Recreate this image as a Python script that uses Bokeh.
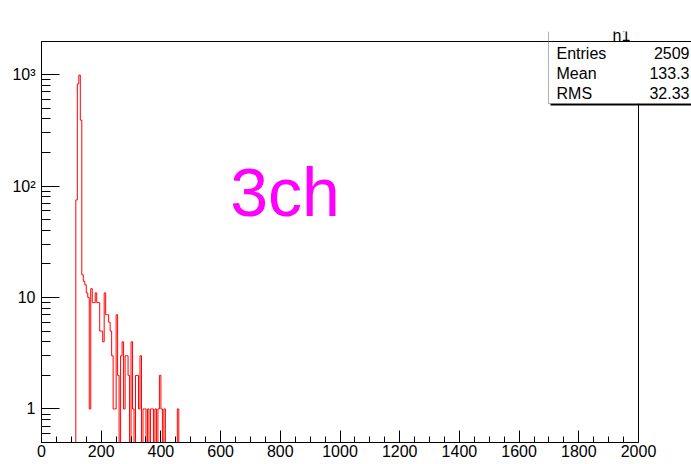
import math
import numpy as np
from bokeh.plotting import figure
from bokeh.models import (Label, BoxAnnotation, FixedTicker, Range1d, Span,
                          CustomJSTickFormatter)
from bokeh.embed import file_html
from bokeh.resources import INLINE

# ---------------- data ----------------
hist_name = "h1"
x_min, x_max = 0, 2000
bin_width = 5
# lower edges of the non-empty region and their counts
bin_lo = [115, 120, 125, 130, 135, 140, 145, 150, 155, 160, 165, 170, 175, 180, 185,
          190, 195, 200, 205, 210, 215, 220, 225, 230, 235, 240, 245, 250, 255, 260,
          265, 270, 275, 280, 285, 290, 295, 300, 305, 310, 315, 320, 325, 330, 335,
          340, 345, 350, 355, 360, 365, 370, 375, 380, 385, 390, 395, 400, 405, 410,
          415, 420, 425, 430, 435, 440, 445, 450, 455]
counts = [75, 825, 990, 390, 16, 14, 13, 11, 10, 1, 12, 9, 9, 11, 9,
          9, 5, 5, 4, 11, 7, 7, 6, 5, 3, 1, 1, 7, 2, 0,
          3, 4, 1, 3, 3, 2, 0, 4, 1, 0, 2, 2, 1, 3, 0,
          1, 1, 0, 1, 0, 1, 1, 0, 1, 0, 1, 2, 1, 0, 1,
          0, 0, 0, 0, 0, 0, 0, 0, 1]
x_ticks = [0, 200, 400, 600, 800, 1000, 1200, 1400, 1600, 1800, 2000]
y_ticks = [1, 10, 100, 1000]
y_tick_labels = ["1", "10", "10\u00b2", "10\u00b3"]
stats_names = ["Entries", "Mean", "RMS"]
stats_values = ["2509", "133.3", "32.33"]
annotation_text = "3ch"

# ---------------- histogram path ----------------
nbins = (x_max - x_min) // bin_width
full = np.zeros(nbins)
for lo, c in zip(bin_lo, counts):
    full[(lo - x_min) // bin_width] = c
edges = np.arange(x_min, x_max + bin_width, bin_width, dtype=float)
y_lo = 0.5
y_hi = 2 * max(counts)
floor_val = y_lo * 0.1
vals = np.where(full > 0, full, floor_val)
step_x = edges
step_y = np.append(vals, vals[-1])

# ---------------- layout (pixels) ----------------
W, H = 691, 464
FL, FR, FT, FB = 41, 638, 41, 442     # the histogram frame
CT = 31                                # drawing area top (stats box top)
ly0, ly1 = math.log10(y_lo), math.log10(y_hi)
def dx(px):
    return x_min + (px - FL) / (FR - FL) * (x_max - x_min)
def dy(py):
    return 10 ** (ly0 + (FB - py) / (FB - FT) * (ly1 - ly0))

p = figure(width=W, height=H, x_range=Range1d(x_min, dx(W)), y_range=Range1d(y_lo, dy(CT)),
           y_axis_type="log", output_backend="svg", toolbar_location=None,
           min_border_left=FL, min_border_right=0, min_border_top=CT,
           min_border_bottom=H - FB)
p.outline_line_color = None
p.xgrid.visible = False
p.ygrid.visible = False
p.background_fill_color = "white"
p.border_fill_color = "white"

p.step(x=step_x, y=step_y, mode="after", line_color="#ff0000", line_width=1)

font = "Liberation Sans"
xa = p.xaxis[0]
xa.bounds = (x_min, x_max)
xa.ticker = FixedTicker(ticks=x_ticks, minor_ticks=list(range(x_min, x_max + 1, 50)))
xa.major_tick_in = 12
xa.major_tick_out = 0
xa.minor_tick_in = 6
xa.minor_tick_out = 0
xa.major_label_standoff = 2
xa.major_label_text_font = font
xa.major_label_text_font_size = "16px"
xa.major_label_text_color = "black"
xa.axis_line_color = "black"

ya = p.yaxis[0]
ya.bounds = (y_lo, y_hi)
minor = [m * 10.0 ** d for d in range(-1, 4) for m in range(2, 10)]
ya.ticker = FixedTicker(ticks=y_ticks, minor_ticks=minor)
lab_map = {str(t): s for t, s in zip(y_ticks, y_tick_labels)}
ya.formatter = CustomJSTickFormatter(args=dict(m=lab_map),
                                     code="const k = String(Math.round(tick)); return (k in m) ? m[k] : '';")
ya.major_tick_in = 18
ya.major_tick_out = 0
ya.minor_tick_in = 9
ya.minor_tick_out = 0
ya.major_label_standoff = 6
ya.major_label_text_font = font
ya.major_label_text_font_size = "16px"
ya.major_label_text_color = "black"
ya.axis_line_color = "black"

# frame lines: top and right
p.add_layout(Span(location=y_hi, dimension="width", line_color="black", line_width=1))
p.segment(x0=[x_max], y0=[y_lo], x1=[x_max], y1=[y_hi], line_color="black", line_width=1)

# "3ch"
p.add_layout(Label(x=dx(284.5), y=dy(191), text=annotation_text, text_align="center",
                   text_baseline="alphabetic", text_font=font, text_font_size="68px",
                   text_color="#ff00ff"))

# stats box
BL, BR, BB = 548, W + 5, 103
p.add_layout(BoxAnnotation(left=dx(BL + 2), right=dx(BR), top=dy(BB), bottom=dy(BB + 2),
                           fill_color="black", fill_alpha=1, line_color=None, level="overlay"))
p.add_layout(BoxAnnotation(left=dx(BL), right=dx(BR), top=dy(CT - 3), bottom=dy(BB),
                           fill_color="white", fill_alpha=1, line_color="black",
                           line_width=1, level="overlay"))
p.add_layout(BoxAnnotation(left=dx(BL), right=dx(BR), top=dy(FT - 0.5), bottom=dy(FT + 0.5),
                           fill_color="black", fill_alpha=1, line_color=None, level="overlay"))
p.add_layout(Label(x=dx(621), y=dy(34.5), text=hist_name, text_align="center",
                   text_baseline="alphabetic", text_font=font, text_font_size="16px",
                   text_color="black", level="overlay"))
for i, (nm, vv) in enumerate(zip(stats_names, stats_values)):
    base = 52.5 + 20 * i
    p.add_layout(Label(x=dx(556), y=dy(base), text=nm, text_align="left",
                       text_baseline="alphabetic", text_font=font, text_font_size="16px",
                       text_color="black", level="overlay"))
    p.add_layout(Label(x=dx(689), y=dy(base), text=vv, text_align="right",
                       text_baseline="alphabetic", text_font=font, text_font_size="16px",
                       text_color="black", level="overlay"))

open("out.html", "w").write(file_html(p, INLINE))
